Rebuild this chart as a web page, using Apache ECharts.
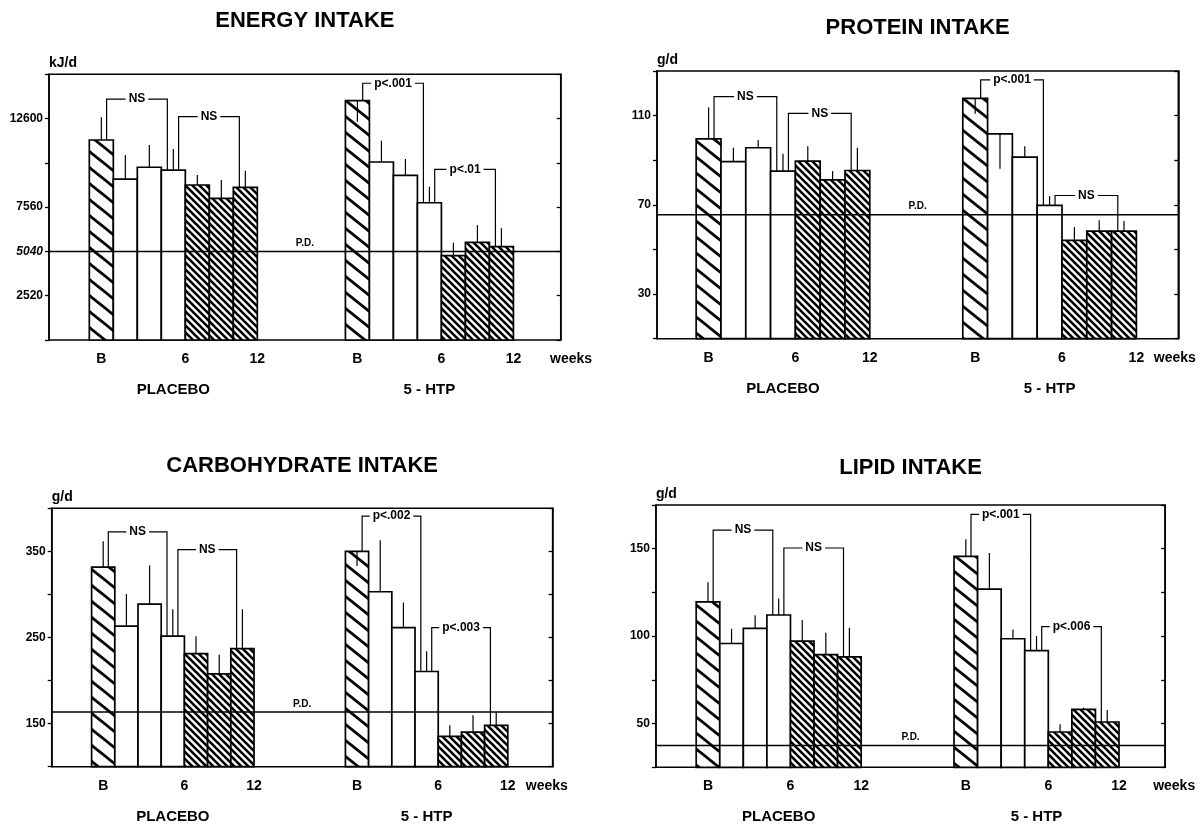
<!DOCTYPE html>
<html><head><meta charset="utf-8">
<script src="https://cdn.jsdelivr.net/npm/echarts@6/dist/echarts.min.js"></script>
<style>html,body{margin:0;padding:0;background:#fff}#c{width:1199px;height:824px}</style>
</head><body><div id="c"></div>
<script>
// ---------------- data ----------------
const weeks = ['B', 2, 4, 6, 8, 10, 12];
const xTickLabels = ['B', 6, 12];
const groupNames = ['PLACEBO', '5 - HTP'];
const titles = ['ENERGY INTAKE', 'PROTEIN INTAKE', 'CARBOHYDRATE INTAKE', 'LIPID INTAKE'];
const units = ['kJ/d', 'g/d', 'g/d', 'g/d'];

const energyPlacebo    = [11380, 9160, 9830, 9670, 8820, 8060, 8690];
const energyPlaceboTip = [12670, 10530, 11100, 10870, 9390, 9100, 9630];
const energyHTP        = [13620, 10130, 9370, 7810, 4800, 5560, 5310];
const energyHTPTip     = [12420, 11340, 10300, 8720, 5540, 6540, 6360];
const energyPD = 5040;
const energyTickLabels = [2520, 5040, 7560, 12600];
const energyBrackets = [[0,0,3,13710,'NS'],[0,3,6,12710,'NS'],[1,0,3,14610,'p<.001'],[1,3,6,9710,'p<.01']];

const proteinPlacebo    = [99.6, 89.4, 95.6, 85.1, 89.6, 81.2, 85.4];
const proteinPlaceboTip = [113.7, 95.6, 99.1, 92.9, 96.3, 85.1, 95.6];
const proteinHTP        = [117.7, 101.8, 91.4, 69.8, 54.1, 58.2, 58.2];
const proteinHTPTip     = [110.8, 86.2, 96.3, 73.9, 60.1, 63.1, 62.8];
const proteinPD = 65.6;
const proteinTickLabels = [30, 70, 110];
const proteinBrackets = [[0,0,3,118.5,'NS'],[0,3,6,111,'NS'],[1,0,3,126,'p<.001'],[1,3,6,74.2,'NS']];

const carbPlacebo    = [331.7, 263.2, 288.7, 251.5, 231.2, 207.8, 237.1];
const carbPlaceboTip = [361.7, 300.4, 333.6, 282.8, 251.5, 230.1, 282.8];
const carbHTP        = [350, 303.1, 261.4, 210.5, 135.1, 140.2, 148.0];
const carbHTPTip     = [332.9, 362.9, 290.7, 233.9, 148.0, 159.7, 163.6];
const carbPD = 163.6;
const carbTickLabels = [150, 250, 350];
const carbBrackets = [[0,0,3,372.7,'NS'],[0,3,6,352,'NS'],[1,0,3,391,'p<.002'],[1,3,6,261.4,'p<.003']];

const lipidPlacebo    = [119.6, 95.8, 104.4, 112.1, 97.1, 89.4, 88.1];
const lipidPlaceboTip = [130.8, 104.2, 111.9, 121.5, 109.2, 101.9, 104.8];
const lipidHTP        = [145.6, 126.9, 98.5, 91.7, 45.2, 58.1, 50.9];
const lipidHTPTip     = [155.4, 147.5, 103.8, 100.0, 49.6, 59.0, 57.7];
const lipidPD = 37.5;
const lipidTickLabels = [50, 100, 150];
const lipidBrackets = [[0,0,3,160.6,'NS'],[0,3,6,150.4,'NS'],[1,0,3,169.6,'p<.001'],[1,3,6,105.4,'p<.006']];

// ---------------- layout / style ----------------
const FONT = '"Liberation Sans", Arial, Helvetica, sans-serif';
const panels = [
  {vals:[energyPlacebo, energyHTP], tips:[energyPlaceboTip, energyHTPTip], pd:energyPD, ticks:energyTickLabels, br:energyBrackets,
   yMin:0, yMax:15120, yInt:2520, box:[49,74.3,560.7,340], xMin:-1.68, xMax:19.64, g2:10.67, weeksX:20.07, titleY:21},
  {vals:[proteinPlacebo, proteinHTP], tips:[proteinPlaceboTip, proteinHTPTip], pd:proteinPD, ticks:proteinTickLabels, br:proteinBrackets,
   yMin:10, yMax:130, yInt:20, box:[657,71,1178.3,338.7], xMin:-1.58, xMax:19.44, g2:10.75, weeksX:19.3, titleY:28},
  {vals:[carbPlacebo, carbHTP], tips:[carbPlaceboTip, carbHTPTip], pd:carbPD, ticks:carbTickLabels, br:carbBrackets,
   yMin:100, yMax:400, yInt:50, box:[51.7,508.3,552.6,766.7], xMin:-1.72, xMax:19.87, g2:10.94, weeksX:19.62, titleY:466},
  {vals:[lipidPlacebo, lipidHTP], tips:[lipidPlaceboTip, lipidHTPTip], pd:lipidPD, ticks:lipidTickLabels, br:lipidBrackets,
   yMin:25, yMax:175, yInt:25, box:[655.9,505,1165.2,767.3], xMin:-1.71, xMax:19.9, g2:10.94, weeksX:20.28, titleY:468}
];

function makeHatch(W, H, lw) {
  const c = document.createElement('canvas'); c.width = W; c.height = H;
  const g = c.getContext('2d');
  g.fillStyle = '#fff'; g.fillRect(0, 0, W, H);
  g.strokeStyle = '#000'; g.lineWidth = lw;
  for (const dy of [-H, 0, H]) {
    g.beginPath(); g.moveTo(-1, dy - H / W); g.lineTo(W + 1, dy + H + H / W); g.stroke();
  }
  return c;
}
const wideHatch = {image: makeHatch(20, 16, 2.8), repeat: 'repeat'};
const denseHatch = {image: makeHatch(7, 7, 2.6), repeat: 'repeat'};
function fillFor(k) { return k === 0 ? wideHatch : (k <= 3 ? '#fff' : denseHatch); }

// week -> slot position (bar k spans [k, k+1]; B at centre of bar 0, week w at right edge of its bar)
function weekSlot(w) { return w === 'B' ? 0.5 : 1 + w / 2; }

function txt(text, x, y, size, align, vAlign, extra) {
  return {type: 'text', style: Object.assign({
    text: text, x: x, y: y, fill: '#000',
    font: 'bold ' + size + 'px ' + FONT,
    align: align, verticalAlign: vAlign, textAlign: align, textVerticalAlign: vAlign
  }, extra || {})};
}

const grid = [], xAxis = [], yAxis = [], series = [];
panels.forEach((p, i) => {
  const [L, T, R, B] = p.box;
  grid.push({left: L, top: T, width: R - L, height: B - T, show: true, borderColor: '#000', borderWidth: 1.5, backgroundColor: 'transparent'});
  xAxis.push({type: 'value', gridIndex: i, min: p.xMin, max: p.xMax, show: false});
  const tickSet = p.ticks;
  yAxis.push({type: 'value', gridIndex: i, min: p.yMin, max: p.yMax, interval: p.yInt, position: 'left',
    axisLine: {show: true, onZero: false, lineStyle: {color: '#000', width: 1.5}},
    axisTick: {show: true, length: 4, lineStyle: {color: '#000', width: 1.3}},
    splitLine: {show: false},
    axisLabel: {color: '#000', fontWeight: 'bold', fontSize: 12, fontFamily: FONT, margin: 6,
      formatter: v => tickSet.indexOf(v) >= 0 ? (i === 0 && v === 5040 ? '{it|' + v + '}' : String(v)) : '',
      rich: {it: {fontStyle: 'italic', fontWeight: 'bold', fontSize: 12, fontFamily: FONT, color: '#000'}}}
  });
  yAxis.push({type: 'value', gridIndex: i, min: p.yMin, max: p.yMax, interval: p.yInt, position: 'right',
    axisLine: {show: true, onZero: false, lineStyle: {color: '#000', width: 1.5}},
    axisTick: {show: true, inside: true, length: 4, lineStyle: {color: '#000', width: 1.3}},
    splitLine: {show: false}, axisLabel: {show: false}
  });
  const offs = [0, p.g2];
  const barData = [];
  [0, 1].forEach(g => weeks.forEach((w, k) => barData.push([offs[g] + k, p.vals[g][k], p.tips[g][k], k])));

  // bars + error lines
  series.push({type: 'custom', xAxisIndex: i, yAxisIndex: 2 * i, data: barData, z: 2,
    renderItem: (params, api) => {
      const x0 = api.value(0), v = api.value(1), e = api.value(2), k = api.value(3);
      const a = api.coord([x0, v]), b = api.coord([x0 + 1, p.yMin]);
      const c = api.coord([x0 + 0.5, v]), d = api.coord([x0 + 0.5, e]);
      return {type: 'group', children: [
        {type: 'rect', shape: {x: a[0], y: a[1], width: b[0] - a[0], height: b[1] - a[1]},
         style: {fill: fillFor(k), stroke: '#000', lineWidth: 1.7}},
        {type: 'line', shape: {x1: c[0], y1: c[1], x2: d[0], y2: d[1]}, style: {stroke: '#000', lineWidth: 1.2}}
      ]};
    }});

  // P.D. line
  series.push({type: 'custom', xAxisIndex: i, yAxisIndex: 2 * i, data: [[p.xMin, p.pd]], z: 3,
    renderItem: (params, api) => {
      const a = api.coord([p.xMin, p.pd]), b = api.coord([p.xMax, p.pd]);
      const m = api.coord([(p.xMin + p.xMax) / 2, p.pd]);
      return {type: 'group', children: [
        {type: 'line', shape: {x1: a[0], y1: a[1], x2: b[0], y2: b[1]}, style: {stroke: '#000', lineWidth: 1.5}},
        txt('P.D.', m[0], m[1] - 8, 10, 'center', 'middle')
      ]};
    }});

  // significance brackets
  series.push({type: 'custom', xAxisIndex: i, yAxisIndex: 2 * i, data: p.br.map((b, j) => [j, b[3]]), z: 4,
    renderItem: (params, api) => {
      const [g, from, to, level, label] = p.br[params.dataIndex];
      const xl = offs[g] + from + 0.72, xr = offs[g] + to + 0.25;
      const p1 = api.coord([xl, p.vals[g][from]]), p2 = api.coord([xl, level]);
      const p3 = api.coord([xr, level]), p4 = api.coord([xr, p.vals[g][to]]);
      return {type: 'group', children: [
        {type: 'polyline', shape: {points: [p1, p2, p3, p4]}, style: {stroke: '#000', lineWidth: 1.2, fill: null}},
        txt(label, (p2[0] + p3[0]) / 2, p2[1], 12, 'center', 'middle', {backgroundColor: '#fff', padding: [1, 3]})
      ]};
    }});

  // axis annotations, titles
  series.push({type: 'custom', xAxisIndex: i, yAxisIndex: 2 * i, data: [[p.xMin, p.yMin]], z: 5,
    renderItem: (params, api) => {
      const kids = [];
      const bottom = api.coord([0, p.yMin])[1], top = api.coord([0, p.yMax])[1];
      const left = api.coord([p.xMin, 0])[0], right = api.coord([p.xMax, 0])[0];
      [0, 1].forEach(g => {
        xTickLabels.forEach(w => {
          const x = api.coord([offs[g] + weekSlot(w), p.yMin])[0];
          kids.push(txt(String(w), x, bottom + 19, 14, 'center', 'middle'));
        });
        const cx = api.coord([offs[g] + 3.5, p.yMin])[0];
        kids.push(txt(groupNames[g], cx, bottom + 50, 15, 'center', 'middle'));
      });
      kids.push(txt('weeks', api.coord([p.weeksX, p.yMin])[0], bottom + 19, 14, 'center', 'middle'));
      kids.push(txt(units[i], left, top - 11, 14, 'left', 'middle'));
      kids.push(txt(titles[i], (left + right) / 2, p.titleY, 22, 'center', 'middle'));
      return {type: 'group', children: kids};
    }});
});

const chart = echarts.init(document.getElementById('c'), null, {renderer: 'canvas'});
chart.setOption({animation: false, backgroundColor: '#fff', grid, xAxis, yAxis, series});
</script>
</body></html>
